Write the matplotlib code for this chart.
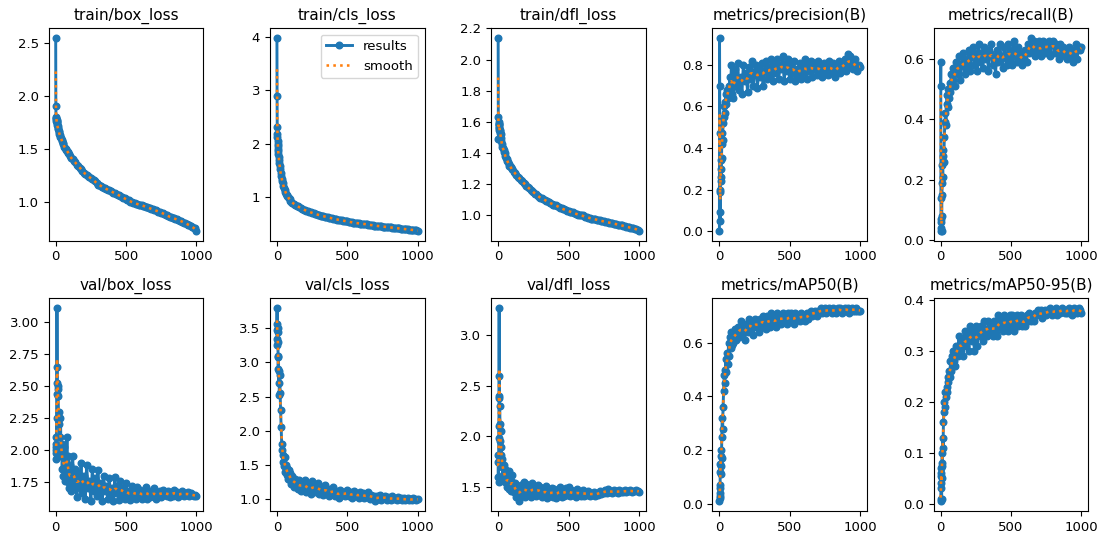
import numpy as np
import matplotlib
matplotlib.use("Agg")
import matplotlib.pyplot as plt

epochs = (list(range(0, 10))
          + [11, 13, 15, 17, 20, 23, 26, 30, 34, 38, 42, 46, 50, 55, 60, 65, 70, 75, 80, 85, 90, 95]
          + list(range(100, 1000, 10)) + [999])

titles = ["train/box_loss", "train/cls_loss", "train/dfl_loss", "metrics/precision(B)", "metrics/recall(B)",
          "val/box_loss", "val/cls_loss", "val/dfl_loss", "metrics/mAP50(B)", "metrics/mAP50-95(B)"]

yticks = [[1.0, 1.5, 2.0, 2.5], [1, 2, 3, 4], [1.0, 1.2, 1.4, 1.6, 1.8, 2.0, 2.2],
          [0.0, 0.2, 0.4, 0.6, 0.8], [0.0, 0.2, 0.4, 0.6],
          [1.75, 2.00, 2.25, 2.50, 2.75, 3.00], [1.0, 1.5, 2.0, 2.5, 3.0, 3.5], [1.5, 2.0, 2.5, 3.0],
          [0.0, 0.2, 0.4, 0.6], [0.0, 0.1, 0.2, 0.3, 0.4]]
xticks = [0, 500, 1000]

train_box_loss = [2.55, 1.90, 1.78, 1.80, 1.76, 1.79, 1.77, 1.75, 1.76, 1.74,
                  1.72, 1.71, 1.70, 1.69, 1.67, 1.66, 1.64, 1.63, 1.61, 1.60, 1.58, 1.57, 1.55, 1.54, 1.52, 1.51, 1.50, 1.49, 1.48, 1.47, 1.46, 1.45,
                  1.43, 1.41, 1.40, 1.38, 1.37, 1.35, 1.34, 1.32, 1.31, 1.29,
                  1.27, 1.26, 1.25, 1.24, 1.23, 1.22, 1.21, 1.20, 1.19, 1.175,
                  1.16, 1.155, 1.15, 1.14, 1.13, 1.125, 1.12, 1.11, 1.105, 1.10,
                  1.09, 1.085, 1.08, 1.07, 1.065, 1.06, 1.05, 1.045, 1.035, 1.03,
                  1.02, 1.015, 1.01, 1.00, 0.995, 0.99, 0.985, 0.98, 0.975, 0.97,
                  0.97, 0.965, 0.96, 0.955, 0.95, 0.945, 0.94, 0.935, 0.93, 0.925,
                  0.92, 0.915, 0.91, 0.905, 0.90, 0.895, 0.89, 0.88, 0.875, 0.87,
                  0.86, 0.855, 0.85, 0.845, 0.84, 0.835, 0.83, 0.825, 0.82, 0.815,
                  0.81, 0.80, 0.795, 0.79, 0.78, 0.775, 0.77, 0.76, 0.75, 0.745,
                  0.72]

train_cls_loss = [3.98, 2.90, 2.32, 2.18, 2.12, 2.06, 2.00, 1.95, 1.91, 1.87,
                  1.80, 1.75, 1.70, 1.65, 1.58, 1.52, 1.46, 1.40, 1.35, 1.30, 1.26, 1.22, 1.18, 1.14, 1.10, 1.07, 1.04, 1.02, 1.00, 0.98, 0.96, 0.94,
                  0.92, 0.90, 0.88, 0.86, 0.845, 0.83, 0.815, 0.80, 0.785, 0.77,
                  0.76, 0.75, 0.74, 0.73, 0.72, 0.71, 0.70, 0.69, 0.685, 0.675,
                  0.67, 0.66, 0.655, 0.65, 0.64, 0.635, 0.63, 0.62, 0.615, 0.61,
                  0.60, 0.595, 0.59, 0.585, 0.58, 0.575, 0.57, 0.565, 0.56, 0.555,
                  0.55, 0.545, 0.54, 0.535, 0.53, 0.526, 0.522, 0.518, 0.514, 0.51,
                  0.51, 0.506, 0.502, 0.498, 0.494, 0.49, 0.486, 0.482, 0.478, 0.474,
                  0.47, 0.467, 0.464, 0.461, 0.458, 0.455, 0.452, 0.449, 0.446, 0.443,
                  0.44, 0.437, 0.434, 0.431, 0.428, 0.425, 0.422, 0.419, 0.416, 0.413,
                  0.41, 0.407, 0.404, 0.401, 0.398, 0.395, 0.392, 0.389, 0.386, 0.383,
                  0.37]

train_dfl_loss = [2.14, 1.63, 1.49, 1.55, 1.59, 1.60, 1.59, 1.58, 1.57, 1.56,
                  1.55, 1.54, 1.53, 1.52, 1.50, 1.48, 1.46, 1.44, 1.43, 1.42, 1.41, 1.40, 1.38, 1.37, 1.36, 1.35, 1.34, 1.33, 1.32, 1.315, 1.31, 1.30,
                  1.295, 1.28, 1.27, 1.26, 1.25, 1.24, 1.23, 1.22, 1.21, 1.20,
                  1.19, 1.18, 1.175, 1.165, 1.16, 1.15, 1.14, 1.135, 1.125, 1.12,
                  1.115, 1.11, 1.105, 1.10, 1.095, 1.09, 1.085, 1.08, 1.075, 1.07,
                  1.07, 1.065, 1.06, 1.055, 1.05, 1.045, 1.04, 1.04, 1.035, 1.03,
                  1.03, 1.025, 1.02, 1.02, 1.015, 1.01, 1.01, 1.005, 1.00, 1.00,
                  1.00, 0.995, 0.99, 0.99, 0.985, 0.985, 0.98, 0.98, 0.975, 0.975,
                  0.974, 0.97, 0.968, 0.966, 0.964, 0.962, 0.96, 0.958, 0.956, 0.954,
                  0.953, 0.95, 0.948, 0.946, 0.944, 0.942, 0.94, 0.938, 0.936, 0.933,
                  0.93, 0.928, 0.926, 0.924, 0.922, 0.92, 0.918, 0.915, 0.912, 0.91,
                  0.90]

precision = [0.00, 0.93, 0.70, 0.47, 0.19, 0.09, 0.05, 0.20, 0.34, 0.26,
             0.30, 0.24, 0.35, 0.42, 0.47, 0.44, 0.52, 0.55, 0.60, 0.57, 0.62, 0.66, 0.61, 0.68, 0.64, 0.70, 0.66, 0.74, 0.68, 0.80, 0.66, 0.72,
             0.64, 0.78, 0.70, 0.81, 0.68, 0.74, 0.66, 0.80, 0.72, 0.76,
             0.67, 0.79, 0.73, 0.82, 0.70, 0.76, 0.80, 0.69, 0.78, 0.74,
             0.81, 0.70, 0.77, 0.82, 0.73, 0.79, 0.75, 0.83, 0.72, 0.80,
             0.76, 0.83, 0.73, 0.80, 0.78, 0.84, 0.72, 0.81, 0.77, 0.83,
             0.73, 0.80, 0.76, 0.82, 0.72, 0.78, 0.75, 0.81, 0.73, 0.79,
             0.76, 0.83, 0.73, 0.80, 0.77, 0.82, 0.74, 0.81, 0.78, 0.75,
             0.82, 0.76, 0.79, 0.74, 0.81, 0.77, 0.80, 0.75, 0.82, 0.78,
             0.76, 0.81, 0.74, 0.79, 0.77, 0.82, 0.76, 0.80, 0.78, 0.83,
             0.77, 0.85, 0.79, 0.84, 0.81, 0.78, 0.83, 0.79, 0.77, 0.80,
             0.79]

recall = [0.51, 0.59, 0.14, 0.03, 0.07, 0.04, 0.06, 0.03, 0.08, 0.15,
          0.19, 0.25, 0.21, 0.28, 0.30, 0.26, 0.34, 0.39, 0.42, 0.38, 0.45, 0.48, 0.44, 0.50, 0.47, 0.52, 0.49, 0.55, 0.51, 0.57, 0.53, 0.56,
          0.51, 0.59, 0.55, 0.61, 0.53, 0.58, 0.62, 0.55, 0.60, 0.57,
          0.63, 0.56, 0.61, 0.64, 0.58, 0.62, 0.56, 0.65, 0.59, 0.62,
          0.57, 0.64, 0.60, 0.63, 0.56, 0.62, 0.65, 0.58, 0.61, 0.55,
          0.63, 0.59, 0.65, 0.60, 0.57, 0.64, 0.61, 0.58, 0.65, 0.60,
          0.63, 0.58, 0.66, 0.61, 0.59, 0.64, 0.60, 0.62, 0.58, 0.60,
          0.63, 0.59, 0.65, 0.62, 0.67, 0.63, 0.66, 0.61, 0.65, 0.62,
          0.66, 0.61, 0.64, 0.66, 0.62, 0.65, 0.63, 0.66, 0.61, 0.65,
          0.66, 0.62, 0.65, 0.63, 0.60, 0.65, 0.62, 0.64, 0.61, 0.63,
          0.60, 0.64, 0.61, 0.63, 0.59, 0.62, 0.65, 0.60, 0.64, 0.63,
          0.64]

val_box_loss = [2.02, 1.93, 2.00, 1.98, 2.05, 2.10, 2.25, 2.44, 2.65, 3.11,
                2.52, 2.48, 2.50, 2.42, 2.30, 2.25, 2.20, 2.10, 2.25, 1.95, 2.05, 1.85, 1.98, 1.80, 2.02, 1.76, 1.92, 1.82, 2.10, 1.75, 1.95, 1.70,
                1.88, 1.68, 1.95, 1.72, 1.85, 1.63, 1.82, 1.70, 1.90, 1.66,
                1.80, 1.62, 1.88, 1.70, 1.76, 1.60, 1.85, 1.68, 1.78, 1.64,
                1.84, 1.66, 1.74, 1.60, 1.80, 1.68, 1.72, 1.62, 1.78, 1.65,
                1.70, 1.60, 1.79, 1.66, 1.72, 1.61, 1.76, 1.65, 1.70, 1.62,
                1.74, 1.63, 1.68, 1.61, 1.72, 1.65, 1.67, 1.62, 1.71, 1.64,
                1.69, 1.62, 1.67, 1.64, 1.71, 1.62, 1.68, 1.63, 1.66, 1.64,
                1.70, 1.62, 1.66, 1.64, 1.68, 1.63, 1.69, 1.65, 1.67, 1.64,
                1.68, 1.63, 1.66, 1.64, 1.69, 1.65, 1.67, 1.63, 1.66, 1.65,
                1.68, 1.64, 1.66, 1.65, 1.67, 1.64, 1.66, 1.65, 1.64, 1.65,
                1.64]

val_cls_loss = [3.57, 3.80, 3.35, 3.48, 3.25, 3.50, 3.45, 3.30, 3.10, 2.90,
                3.08, 2.70, 2.88, 2.52, 2.82, 2.55, 2.30, 2.05, 1.80, 1.72, 1.65, 1.55, 1.48, 1.62, 1.40, 1.50, 1.36, 1.45, 1.30, 1.42, 1.28, 1.38,
                1.22, 1.34, 1.18, 1.30, 1.22, 1.15, 1.28, 1.12, 1.25, 1.16,
                1.28, 1.10, 1.22, 1.14, 1.08, 1.26, 1.12, 1.20, 1.10, 1.24,
                1.08, 1.18, 1.12, 1.06, 1.20, 1.10, 1.15, 1.05, 1.12, 1.08,
                1.18, 1.04, 1.12, 1.08, 1.02, 1.14, 1.06, 1.10, 1.04, 1.09,
                1.13, 1.05, 1.10, 1.02, 1.08, 1.12, 1.04, 1.07, 1.02, 1.10,
                1.05, 1.09, 1.01, 1.07, 1.03, 1.10, 1.00, 1.06, 1.02, 1.05,
                0.97, 1.04, 1.00, 1.06, 0.98, 1.03, 1.01, 1.05, 0.99, 1.03,
                1.01, 0.98, 1.04, 1.00, 1.02, 0.98, 1.03, 1.00, 1.01, 0.99,
                1.02, 0.98, 1.00, 1.01, 0.99, 1.00, 0.98, 1.01, 1.00, 0.99,
                1.00]

val_dfl_loss = [1.82, 1.60, 1.75, 1.55, 1.98, 2.10, 2.40, 3.27, 2.60, 2.38,
                2.30, 2.12, 1.95, 2.05, 1.82, 1.90, 1.70, 1.78, 1.62, 1.72, 1.58, 1.68, 1.55, 1.64, 1.50, 1.60, 1.52, 1.66, 1.48, 1.58, 1.46, 1.55,
                1.62, 1.45, 1.54, 1.40, 1.50, 1.36, 1.52, 1.42, 1.55, 1.40,
                1.53, 1.42, 1.48, 1.40, 1.54, 1.44, 1.50, 1.41, 1.52, 1.43,
                1.50, 1.40, 1.47, 1.42, 1.51, 1.39, 1.46, 1.41, 1.49, 1.40,
                1.48, 1.39, 1.46, 1.42, 1.50, 1.40, 1.47, 1.41, 1.49, 1.42,
                1.50, 1.41, 1.47, 1.42, 1.46, 1.40, 1.48, 1.42, 1.45, 1.41,
                1.47, 1.41, 1.45, 1.42, 1.46, 1.41, 1.44, 1.42, 1.45, 1.41,
                1.44, 1.42, 1.46, 1.43, 1.45, 1.44, 1.47, 1.44, 1.48, 1.45,
                1.46, 1.44, 1.47, 1.45, 1.46, 1.44, 1.47, 1.45, 1.46, 1.45,
                1.47, 1.45, 1.46, 1.46, 1.47, 1.45, 1.46, 1.46, 1.47, 1.46,
                1.45]

map50 = [0.01, 0.04, 0.02, 0.06, 0.03, 0.07, 0.12, 0.15, 0.11, 0.18,
         0.14, 0.20, 0.17, 0.25, 0.32, 0.28, 0.36, 0.42, 0.48, 0.45, 0.50, 0.54, 0.49, 0.56, 0.52, 0.60, 0.55, 0.62, 0.58, 0.64, 0.59, 0.63,
         0.60, 0.65, 0.61, 0.66, 0.62, 0.68, 0.63, 0.66, 0.61, 0.67,
         0.64, 0.69, 0.65, 0.67, 0.63, 0.69, 0.66, 0.68, 0.64, 0.69,
         0.66, 0.70, 0.67, 0.65, 0.70, 0.68, 0.66, 0.71, 0.67, 0.69,
         0.66, 0.71, 0.68, 0.70, 0.67, 0.71, 0.68, 0.70, 0.67, 0.71,
         0.68, 0.71, 0.69, 0.67, 0.71, 0.69, 0.70, 0.68, 0.71, 0.69,
         0.70, 0.68, 0.71, 0.69, 0.70, 0.72, 0.70, 0.71, 0.72, 0.70,
         0.72, 0.71, 0.73, 0.71, 0.72, 0.73, 0.71, 0.72, 0.73, 0.72,
         0.71, 0.73, 0.72, 0.71, 0.73, 0.72, 0.73, 0.71, 0.72, 0.73,
         0.72, 0.73, 0.71, 0.72, 0.73, 0.72, 0.72, 0.73, 0.72, 0.72,
         0.72]

map50_95 = [0.01, 0.005, 0.03, 0.055, 0.07, 0.04, 0.06, 0.01, 0.05, 0.075,
            0.10, 0.08, 0.13, 0.11, 0.16, 0.18, 0.20, 0.19, 0.22, 0.21, 0.23, 0.22, 0.25, 0.24, 0.26, 0.25, 0.28, 0.26, 0.29, 0.27, 0.30, 0.28,
            0.27, 0.31, 0.29, 0.33, 0.30, 0.32, 0.29, 0.34, 0.31, 0.33,
            0.30, 0.35, 0.32, 0.34, 0.30, 0.35, 0.31, 0.34, 0.33, 0.35,
            0.32, 0.36, 0.34, 0.33, 0.36, 0.34, 0.35, 0.33, 0.36, 0.34,
            0.33, 0.37, 0.35, 0.36, 0.34, 0.37, 0.35, 0.36, 0.34, 0.37,
            0.35, 0.37, 0.34, 0.36, 0.37, 0.35, 0.36, 0.37, 0.35, 0.36,
            0.35, 0.37, 0.36, 0.375, 0.36, 0.37, 0.36, 0.375, 0.37, 0.38,
            0.37, 0.38, 0.365, 0.375, 0.38, 0.37, 0.38, 0.375, 0.385, 0.37,
            0.38, 0.375, 0.385, 0.37, 0.38, 0.375, 0.385, 0.38, 0.375, 0.38,
            0.375, 0.385, 0.38, 0.37, 0.38, 0.385, 0.38, 0.375, 0.385, 0.38,
            0.375]

series = [train_box_loss, train_cls_loss, train_dfl_loss, precision, recall,
          val_box_loss, val_cls_loss, val_dfl_loss, map50, map50_95]


def smooth(values, sigma=1.3):
    y = np.asarray(values, dtype=float)
    r = int(4 * sigma + 0.5)
    k = np.arange(-r, r + 1)
    w = np.exp(-0.5 * (k / sigma) ** 2)
    w /= w.sum()
    yp = np.pad(y, r, mode="symmetric")
    return np.convolve(yp, w, mode="valid")


fig, axes = plt.subplots(2, 5, figsize=(11.06, 5.4), dpi=100)
fig.subplots_adjust(left=0.044, right=0.984, top=0.948, bottom=0.054, wspace=0.43, hspace=0.27)
axes = axes.ravel()
x = np.asarray(epochs, dtype=float)
for i, ax in enumerate(axes):
    y = np.asarray(series[i], dtype=float)
    ax.plot(x, y, marker=".", label="results", linewidth=2.1, markersize=9.5, color="#1f77b4")
    ax.plot(x, smooth(y), ":", label="smooth", linewidth=1.85, color="#ff7f0e")
    ax.set_title(titles[i], fontsize=11)
    ax.tick_params(labelsize=9.5)
    ax.set_xticks(xticks)
    ax.set_yticks(yticks[i])
axes[1].legend(fontsize=9.5)

fig.savefig("out.png", dpi=100)
